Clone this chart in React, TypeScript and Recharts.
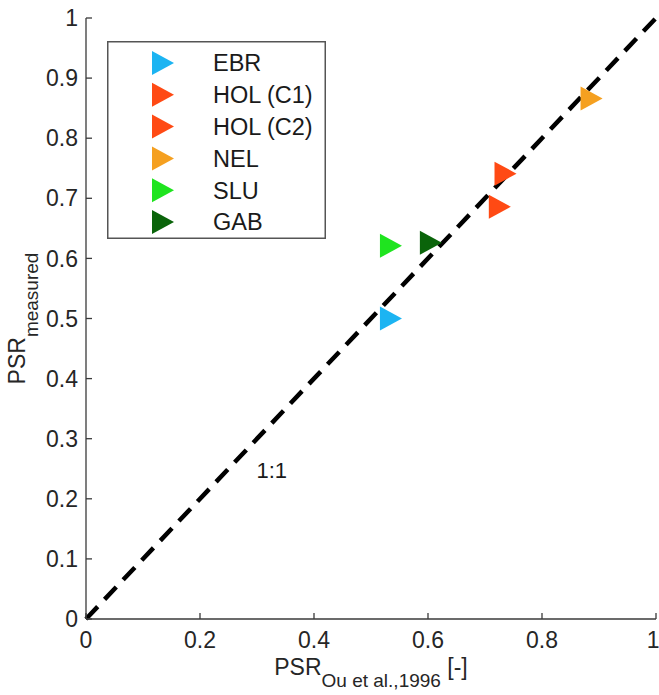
import React from 'react';
import {
  ScatterChart,
  Scatter,
  XAxis,
  YAxis,
  ReferenceLine,
  ReferenceDot,
  Legend,
} from 'recharts';

// Sites and their predicted (Ou et al., 1996) vs measured PSR
const sites = ['EBR', 'HOL (C1)', 'HOL (C2)', 'NEL', 'SLU', 'GAB'];
const psrOu = [0.535, 0.736, 0.726, 0.887, 0.535, 0.605];
const psrMeasured = [0.5, 0.741, 0.686, 0.866, 0.621, 0.626];
const siteColors = ['#1cb4f2', '#ff4a14', '#ff4a14', '#f5a020', '#1fe41f', '#0a640a'];

const xTicks = [0, 0.2, 0.4, 0.6, 0.8, 1];
const yTicks = [0, 0.1, 0.2, 0.3, 0.4, 0.5, 0.6, 0.7, 0.8, 0.9, 1];

const FONT = '"Liberation Sans", Arial, Helvetica, sans-serif';
const AXIS_COLOR = '#3a3a3a';
const TEXT_COLOR = '#262626';

const triPoints = (cx: number, cy: number) =>
  `${cx - 11},${cy - 12} ${cx - 11},${cy + 12} ${cx + 11},${cy}`;

const RightTriangle = (props: any) => {
  const { cx, cy, fill } = props;
  if (cx == null || cy == null) return null;
  return <polygon points={triPoints(cx, cy)} fill={fill} />;
};

const XTitle = (props: any) => {
  const { x, y, width } = props.viewBox;
  return (
    <text
      x={x + width / 2}
      y={y + 56}
      textAnchor="middle"
      fontFamily={FONT}
      fontSize={23}
      fill={TEXT_COLOR}
    >
      <tspan>PSR</tspan>
      <tspan dy={12} fontSize={19}>Ou et al.,1996</tspan>
      <tspan dy={-12}> [-]</tspan>
    </text>
  );
};

const YTitle = (props: any) => {
  const { x, y, height } = props.viewBox;
  const cy = y + height / 2;
  return (
    <text
      transform="rotate(-90)"
      x={-cy}
      y={x - 1}
      textAnchor="middle"
      fontFamily={FONT}
      fontSize={23}
      fill={TEXT_COLOR}
    >
      <tspan>PSR</tspan>
      <tspan dy={13} fontSize={19}>measured</tspan>
    </text>
  );
};

// Legend box drawn in the same order as the site list
const SiteLegend = () => (
  <svg width={219} height={198} style={{ display: 'block' }}>
    <rect x={0.75} y={0.75} width={217.5} height={196.5} fill="#fff" stroke="#555" strokeWidth={1.5} />
    {sites.map((name, i) => {
      const cy = 22 + i * 31.8;
      return (
        <g key={name}>
          <polygon points={triPoints(56, cy)} fill={siteColors[i]} />
          <text
            x={106}
            y={cy}
            dy="0.36em"
            fontFamily={FONT}
            fontSize={23.5}
            fill="#1a1a1a"
          >
            {name}
          </text>
        </g>
      );
    })}
  </svg>
);

export default function App() {
  const series = sites.map((name, i) => ({
    name,
    color: siteColors[i],
    data: [{ x: psrOu[i], y: psrMeasured[i] }],
  }));

  const tickStyle = { fontSize: 23, fill: TEXT_COLOR, fontFamily: FONT };

  return (
    <div style={{ position: 'absolute', left: 0, top: 0, background: '#fff' }}>
      <ScatterChart
        width={659}
        height={695}
        margin={{ top: 18, right: 3, bottom: 16, left: 26 }}
      >
        <XAxis
          type="number"
          dataKey="x"
          domain={[0, 1]}
          ticks={xTicks}
          allowDataOverflow
          height={60}
          tickSize={-6}
          tickMargin={19}
          tick={tickStyle}
          stroke={AXIS_COLOR}
          strokeWidth={1.3}
          label={XTitle}
        />
        <XAxis
          xAxisId="top"
          orientation="top"
          type="number"
          dataKey="x"
          domain={[0, 1]}
          ticks={xTicks}
          height={0}
          tickSize={-6}
          tick={false}
          stroke={AXIS_COLOR}
          strokeWidth={1.3}
        />
        <YAxis
          type="number"
          dataKey="y"
          domain={[0, 1]}
          ticks={yTicks}
          allowDataOverflow
          width={60}
          tickSize={-6}
          tickMargin={14}
          tick={tickStyle}
          stroke={AXIS_COLOR}
          strokeWidth={1.3}
          label={YTitle}
        />
        <YAxis
          yAxisId="right"
          orientation="right"
          type="number"
          dataKey="y"
          domain={[0, 1]}
          ticks={yTicks}
          width={0}
          tickSize={-6}
          tick={false}
          stroke={AXIS_COLOR}
          strokeWidth={1.3}
        />
        <ReferenceLine
          segment={[{ x: 0, y: 0 }, { x: 1, y: 1 }]}
          stroke="#000"
          strokeWidth={4.5}
          strokeDasharray="17 10"
        />
        <ReferenceDot
          x={0.326}
          y={0.248}
          r={0}
          fill="none"
          stroke="none"
          label={{
            value: '1:1',
            position: 'center',
            fontSize: 22,
            fontFamily: FONT,
            fill: '#1a1a1a',
          }}
        />
        {series.map((s) => (
          <Scatter
            key={s.name}
            name={s.name}
            data={s.data}
            fill={s.color}
            shape={RightTriangle}
            isAnimationActive={false}
          />
        ))}
        <Legend
          layout="vertical"
          align="center"
          verticalAlign="middle"
          content={SiteLegend}
          wrapperStyle={{ left: 107, top: 41, width: 219, height: 198 }}
        />
      </ScatterChart>
    </div>
  );
}
